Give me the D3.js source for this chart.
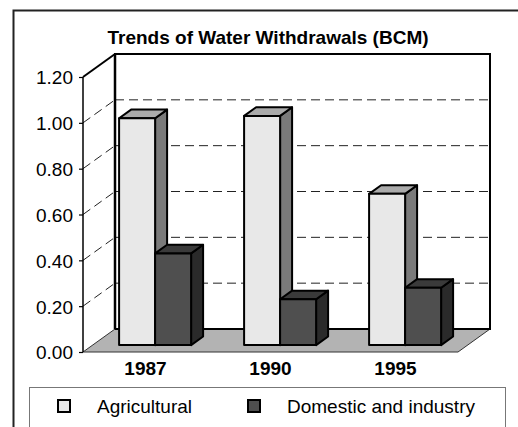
<!DOCTYPE html>
<html>
<head>
<meta charset="utf-8">
<script src="https://cdn.jsdelivr.net/npm/d3@7"></script>
<style>
  body { margin: 0; background: #fff; }
  svg { display: block; font-family: "Liberation Sans", Arial, sans-serif; }
</style>
</head>
<body>
<div id="chart"></div>
<script>
const title = 'Trends of Water Withdrawals (BCM)';
const years = ['1987', '1990', '1995'];
const seriesNames = ['Agricultural', 'Domestic and industry'];
const agricultural = [0.99, 1.00, 0.66];
const domestic = [0.40, 0.20, 0.25];
const yTicks = [0, 0.2, 0.4, 0.6, 0.8, 1.0, 1.2];

const W = 518, H = 427;
const svg = d3.select('#chart').append('svg')
    .attr('width', W).attr('height', H);

// face colours per series: front, top, side
const faces = [
    { front: '#e8e8e8', top: '#ababab', side: '#7a7a7a' },
    { front: '#4f4f4f', top: '#3a3a3a', side: '#2a2a2a' }
];

// outer frame (runs off the right/bottom of the picture)
svg.append('rect')
    .attr('x', 13.5).attr('y', 10.5)
    .attr('width', W + 20).attr('height', H + 20)
    .attr('fill', 'none').attr('stroke', '#222').attr('stroke-width', 2);

svg.append('text')
    .attr('x', 268).attr('y', 44)
    .attr('text-anchor', 'middle')
    .style('font-size', '19px').style('font-weight', 'bold')
    .text(title);

// scales on the front plane
const x = d3.scaleBand().domain(years).range([83, 458]);
const y = d3.scaleLinear().domain([0, 1.2]).range([352, 77]);

// depth projection: z = 0 front plane, z = 1 back wall
const DX = 32, DY = -23;
const P = (px, py, z) => [px + DX * z, py + DY * z];
const poly = pts => 'M' + pts.map(p => p.join(',')).join('L') + 'Z';

const x0 = x.range()[0], x1 = x.range()[1];
const y0 = y(0), yTop = y(1.2);

// back wall
const bw = [P(x0, yTop, 1), P(x1, yTop, 1), P(x1, y0, 1), P(x0, y0, 1)];
svg.append('path').attr('d', poly(bw))
    .attr('fill', '#fff').attr('stroke', '#000').attr('stroke-width', 2);

// gridlines on back wall and side wall
const grid = yTicks.filter(v => v > 0 && v < 1.2);
const gg = svg.append('g')
    .attr('stroke', '#222').attr('stroke-width', 1)
    .attr('stroke-dasharray', '9,5').attr('fill', 'none');
grid.forEach(v => {
    const a = P(x0, y(v), 1), b = P(x1, y(v), 1);
    gg.append('line').attr('x1', a[0]).attr('y1', a[1]).attr('x2', b[0]).attr('y2', b[1]);
    const c = P(x0, y(v), 0);
    gg.append('line').attr('x1', c[0]).attr('y1', c[1]).attr('x2', a[0]).attr('y2', a[1]);
});

// floor
svg.append('path')
    .attr('d', poly([P(x0, y0, 0), P(x1, y0, 0), P(x1, y0, 1), P(x0, y0, 1)]))
    .attr('fill', '#b3b3b3').attr('stroke', '#333').attr('stroke-width', 1);
// back wall bottom edge over the floor
svg.append('line')
    .attr('x1', x0 + DX).attr('y1', y0 + DY).attr('x2', x1 + DX).attr('y2', y0 + DY)
    .attr('stroke', '#000').attr('stroke-width', 2);
// back wall left edge
svg.append('line')
    .attr('x1', x0 + DX).attr('y1', yTop + DY).attr('x2', x0 + DX).attr('y2', y0 + DY)
    .attr('stroke', '#000').attr('stroke-width', 2.5);

// side wall edges: front axis line and top diagonal
svg.append('line')
    .attr('x1', x0).attr('y1', yTop).attr('x2', x0).attr('y2', y0)
    .attr('stroke', '#000').attr('stroke-width', 1.5);
svg.append('line')
    .attr('x1', x0).attr('y1', yTop).attr('x2', x0 + DX).attr('y2', yTop + DY)
    .attr('stroke', '#000').attr('stroke-width', 2);

// y axis ticks and labels
const yAxis = svg.append('g')
    .attr('transform', `translate(${x0},0)`)
    .call(d3.axisLeft(y).tickValues(yTicks).tickFormat(d3.format('.2f')).tickSize(4).tickPadding(6));
yAxis.select('.domain').remove();
yAxis.selectAll('line').attr('stroke', '#000').attr('stroke-width', 1.2);
yAxis.selectAll('text')
    .attr('fill', '#000').attr('dy', '0.36em')
    .style('font-size', '19px').style('font-family', '"Liberation Sans", Arial, sans-serif');

// bars
const barW = 36, zFront = 0.3, zDepth = 0.375;
const values = [agricultural, domestic];
years.forEach((yr, i) => {
    const c = x(yr) + x.bandwidth() / 2;
    values.forEach((vals, s) => {
        const l = c - barW + s * barW, r = l + barW;
        const top = y(vals[i]), bot = y(0);
        const zb = zFront + zDepth;
        const g = svg.append('g').attr('stroke', '#000').attr('stroke-width', 2).attr('stroke-linejoin', 'round');
        g.append('path').attr('fill', faces[s].side)
            .attr('d', poly([P(r, top, zFront), P(r, top, zb), P(r, bot, zb), P(r, bot, zFront)]));
        g.append('path').attr('fill', faces[s].top)
            .attr('d', poly([P(l, top, zFront), P(l, top, zb), P(r, top, zb), P(r, top, zFront)]));
        g.append('path').attr('fill', faces[s].front)
            .attr('d', poly([P(l, top, zFront), P(r, top, zFront), P(r, bot, zFront), P(l, bot, zFront)]));
    });
});

// x axis labels
const xAxis = svg.append('g')
    .attr('transform', `translate(0,${y0 + 9})`)
    .call(d3.axisBottom(x).tickSize(0).tickPadding(0));
xAxis.select('.domain').remove();
xAxis.selectAll('text')
    .attr('fill', '#000').attr('dy', '0.71em')
    .style('font-size', '19px').style('font-weight', 'bold')
    .style('font-family', '"Liberation Sans", Arial, sans-serif');

// legend
svg.append('rect')
    .attr('x', 29.5).attr('y', 387.5).attr('width', 476).attr('height', 60)
    .attr('fill', '#fff').attr('stroke', '#777').attr('stroke-width', 1);
const legX = [58, 248], legTextX = [97, 287];
seriesNames.forEach((name, s) => {
    svg.append('rect')
        .attr('x', legX[s]).attr('y', 400).attr('width', 12).attr('height', 12)
        .attr('fill', faces[s].front).attr('stroke', '#000').attr('stroke-width', 2);
    svg.append('text')
        .attr('x', legTextX[s]).attr('y', 413)
        .style('font-size', '19px')
        .text(name);
});
</script>
</body>
</html>
